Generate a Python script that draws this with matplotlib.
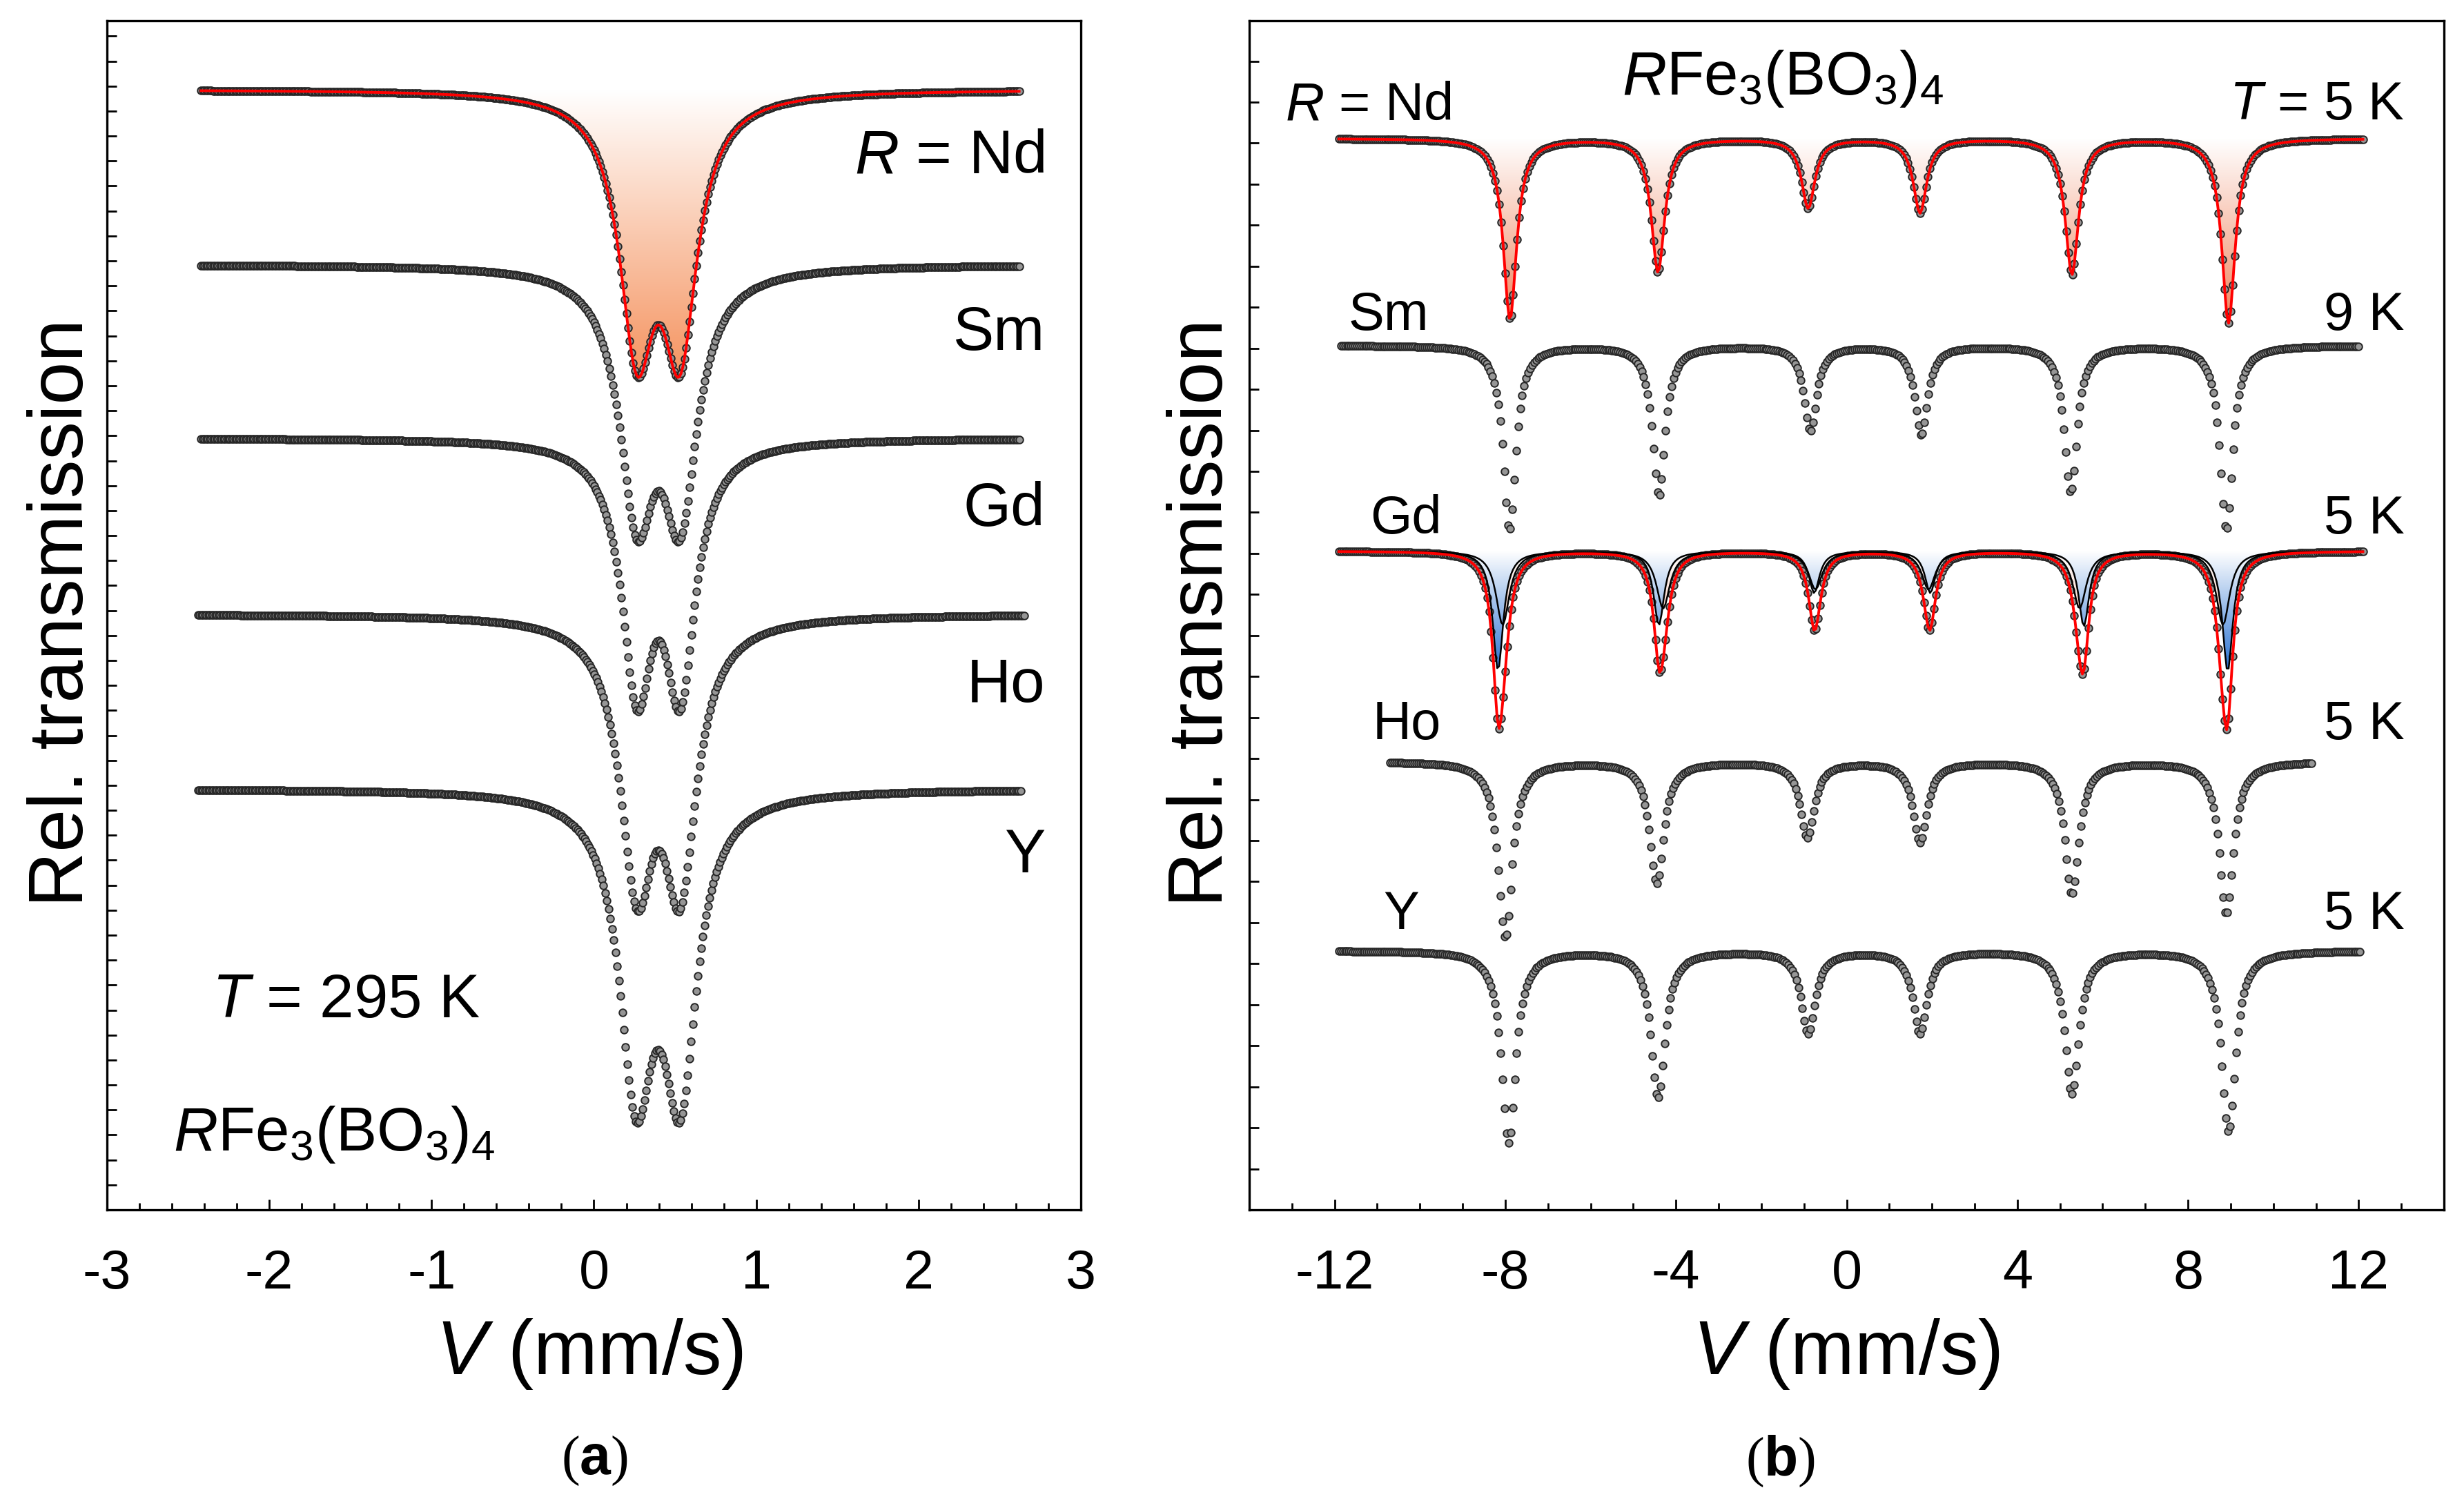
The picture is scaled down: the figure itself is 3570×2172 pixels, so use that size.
import numpy as np
import matplotlib
matplotlib.use("Agg")
import matplotlib.pyplot as plt
from matplotlib.colors import LinearSegmentedColormap
from matplotlib.patches import PathPatch

plt.rcParams['font.family'] = ['Liberation Sans', 'DejaVu Sans']
plt.rcParams['mathtext.fontset'] = 'custom'
plt.rcParams['mathtext.rm'] = 'Liberation Sans'
plt.rcParams['mathtext.it'] = 'Liberation Sans:italic'
plt.rcParams['mathtext.bf'] = 'Liberation Sans:bold'

# ---------------- data: panel (a), T = 295 K (doublets) ----------------
samples_a = ['$R$ = Nd', 'Sm', 'Gd', 'Ho', 'Y']
baseline_a = [94.2, 79.5, 64.9, 50.1, 35.4]
line1_a = [0.265, 0.265, 0.265, 0.265, 0.26]
line2_a = [0.53, 0.53, 0.53, 0.53, 0.53]
depth_a = [24.2, 23.3, 23.0, 25.0, 28.1]
hwhm_a = [0.13, 0.13, 0.115, 0.125, 0.125]
vmin_a = [-2.42, -2.42, -2.42, -2.44, -2.44]
vmax_a = [2.62, 2.62, 2.62, 2.65, 2.63]
npts_a = 480

# ---------------- data: panel (b), low temperature (sextets) ----------------
samples_b = ['$R$ = Nd', 'Sm', 'Gd', 'Ho', 'Y']
temps_b = ['$T$ = 5 K', '9 K', '5 K', '5 K', '5 K']
baseline_b = [90.1, 72.7, 55.4, 37.7, 21.8]
pos_b = {
    'Nd': [-7.89, -4.42, -0.90, 1.72, 5.28, 8.95],
    'Sm': [-7.90, -4.40, -0.85, 1.75, 5.25, 8.90],
    'Ho': [-8.00, -4.45, -0.92, 1.72, 5.28, 8.90],
    'Y':  [-7.92, -4.42, -0.90, 1.72, 5.28, 8.95],
}
depth_b = {
    'Nd': [15.2, 11.2, 5.8, 6.2, 11.4, 15.5],
    'Sm': [15.5, 12.6, 7.1, 7.5, 12.3, 15.5],
    'Ho': [14.8, 10.2, 6.3, 6.7, 11.1, 12.8],
    'Y':  [16.1, 12.3, 6.9, 6.9, 12.0, 15.2],
}
hwhm_b = {'Nd': 0.19, 'Sm': 0.18, 'Ho': 0.20, 'Y': 0.20}
vrange_b = {'Nd': (-11.9, 12.1), 'Sm': (-11.85, 12.0), 'Gd': (-11.9, 12.1),
            'Ho': (-10.7, 10.9), 'Y': (-11.9, 12.03)}
# Gd: two magnetic sub-spectra
gd_comp1_pos = [-8.17, -4.40, -0.76, 1.96, 5.56, 8.93]
gd_comp1_depth = [10.0, 6.2, 3.5, 3.5, 6.3, 10.1]
gd_comp1_hwhm = 0.15
gd_comp2_pos = [-8.06, -4.30, -0.73, 1.92, 5.46, 8.82]
gd_comp2_depth = [6.2, 4.8, 3.2, 3.2, 4.8, 6.2]
gd_comp2_hwhm = 0.19
npts_b = 512

# ---------------- helpers ----------------
def lor(x, p, g):
    return 1.0 / (1.0 + ((x - p) / g) ** 2)

def sextet(x, pos, dep, g):
    s = np.zeros_like(x)
    for p, d in zip(pos, dep):
        s += d * lor(x, p, g)
    return s

def grad_fill(ax, x, y, base, ylow, color, z):
    poly = ax.fill_between(x, y, base, facecolor='none', edgecolor='none', zorder=z)
    path = poly.get_paths()[0]
    patch = PathPatch(path, facecolor='none', edgecolor='none', transform=ax.transData)
    ax.add_patch(patch)
    cmap = LinearSegmentedColormap.from_list('g', ['#ffffff', color])
    grad = np.linspace(1, 0, 256).reshape(-1, 1)
    im = ax.imshow(grad, extent=[x.min(), x.max(), ylow, base], origin='lower',
                   aspect='auto', cmap=cmap, vmin=0, vmax=1, zorder=z,
                   interpolation='bilinear')
    im.set_clip_path(patch)

MK = dict(ls='none', marker='o', ms=7.6, mfc='#969696', mec='#262626', mew=1.4)

W, H = 3570, 2172
fig = plt.figure(figsize=(W / 100, H / 100), dpi=100)
axA = fig.add_axes([155 / W, 419 / H, 1411 / W, 1723 / H])
axB = fig.add_axes([1810 / W, 419 / H, 1731 / W, 1723 / H])

# ---------------- panel (a) ----------------
for i in range(5):
    x = np.linspace(vmin_a[i], vmax_a[i], npts_a)
    shape = lor(x, line1_a[i], hwhm_a[i]) + lor(x, line2_a[i], hwhm_a[i])
    shape = shape / shape.max()
    y = baseline_a[i] - depth_a[i] * shape
    if i == 0:
        grad_fill(axA, x, y, baseline_a[i], baseline_a[i] - depth_a[i], '#f5935f', 1)
    axA.plot(x, y, zorder=3, **MK)
    if i == 0:
        axA.plot(x, y, color='#ff0000', lw=2.8, zorder=4)

axA.set_xlim(-3, 3)
axA.set_ylim(0, 100)
axA.set_xticks(np.arange(-3, 3.01, 1))
axA.set_xticklabels(['-3', '-2', '-1', '0', '1', '2', '3'])
axA.set_xticks(np.arange(-3, 3.01, 0.2), minor=True)
axA.set_yticks(np.arange(2.1, 100, 2.1))
axA.set_yticklabels([])

label_y_a = [0.892, 0.743, 0.595, 0.447, 0.304]
for i, s in enumerate(samples_a):
    axA.text(0.963, label_y_a[i] - 0.02, s, transform=axA.transAxes, ha='right',
             va='baseline', fontsize=64)
axA.text(0.108, 0.162, '$T$ = 295 K', transform=axA.transAxes, ha='left',
         va='baseline', fontsize=64)
axA.text(0.068, 0.05, '$R$Fe$_3$(BO$_3$)$_4$', transform=axA.transAxes, ha='left',
         va='baseline', fontsize=64)

# ---------------- panel (b) ----------------
names_b = ['Nd', 'Sm', 'Gd', 'Ho', 'Y']
for i, nm in enumerate(names_b):
    lo, hi = vrange_b[nm]
    x = np.linspace(lo, hi, npts_b if nm != 'Ho' else 460)
    base = baseline_b[i]
    if nm == 'Gd':
        c1 = sextet(x, gd_comp1_pos, gd_comp1_depth, gd_comp1_hwhm)
        c2 = sextet(x, gd_comp2_pos, gd_comp2_depth, gd_comp2_hwhm)
        y1 = base - c1
        y2 = base - c2
        y = base - c1 - c2
        grad_fill(axB, x, y2, base, base - (c1 + c2).max(), '#f0855f', 1)
        grad_fill(axB, x, y1, base, base - c1.max(), '#2c74d2', 1.5)
        axB.plot(x, y, zorder=3, **MK)
        axB.plot(x, y1, color='black', lw=1.8, zorder=3.5)
        axB.plot(x, y2, color='black', lw=1.8, zorder=3.5)
        axB.plot(x, y, color='#ff0000', lw=2.8, zorder=4)
    else:
        s = sextet(x, pos_b[nm], depth_b[nm], hwhm_b[nm])
        y = base - s
        if nm == 'Nd':
            grad_fill(axB, x, y, base, base - s.max(), '#f0855f', 1)
        axB.plot(x, y, zorder=3, **MK)
        if nm == 'Nd':
            axB.plot(x, y, color='#ff0000', lw=2.8, zorder=4)

axB.set_xlim(-14, 14)
axB.set_ylim(0, 100)
axB.set_xticks(np.arange(-12, 12.01, 4))
axB.set_xticklabels(['-12', '-8', '-4', '0', '4', '8', '12'])
axB.set_xticks(np.arange(-14, 14.01, 1), minor=True)
axB.set_yticks(np.arange(3.45, 100, 3.45))
axB.set_yticklabels([])

label_x_b = [0.030, 0.083, 0.101, 0.103, 0.112]
label_y_b = [0.935, 0.758, 0.587, 0.414, 0.254]
for i in range(5):
    axB.text(label_x_b[i], label_y_b[i] - 0.018, samples_b[i], transform=axB.transAxes,
             ha='left', va='baseline', fontsize=56)
    axB.text(0.967, label_y_b[i] - 0.018, temps_b[i], transform=axB.transAxes,
             ha='right', va='baseline', fontsize=56)
axB.text(0.447, 0.938, '$R$Fe$_3$(BO$_3$)$_4$', transform=axB.transAxes, ha='center',
         va='baseline', fontsize=64)

# ---------------- common styling ----------------
for ax in (axA, axB):
    for sp in ax.spines.values():
        sp.set_linewidth(2.4)
    ax.tick_params(axis='x', which='major', direction='in', length=11, width=2.0,
                   labelsize=57, pad=40, top=False)
    ax.tick_params(axis='x', which='minor', direction='in', length=7, width=2.0, top=False)
    ax.tick_params(axis='y', which='major', direction='in', length=10, width=2.0,
                   right=False)

fig.text(91 / W, 1 - 888 / H, 'Rel. transmission', rotation=90, ha='center',
         va='center', fontsize=80)
fig.text(1742 / W, 1 - 888 / H, 'Rel. transmission', rotation=90, ha='center',
         va='center', fontsize=80)
fig.text(854 / W, 1 - 1962 / H, '$V$ (mm/s)', ha='center', va='center', fontsize=80)
fig.text(2675 / W, 1 - 1962 / H, '$V$ (mm/s)', ha='center', va='center', fontsize=80)
for cx, lt in ((861, 'a'), (2580, 'b')):
    fig.text(cx / W, 1 - 2117 / H, '(' + r'$\mathbf{' + lt + '}$' + ')', ha='center',
             va='center', fontsize=58, family=['Liberation Serif', 'DejaVu Serif'])

fig.savefig('out.png', dpi=100)
